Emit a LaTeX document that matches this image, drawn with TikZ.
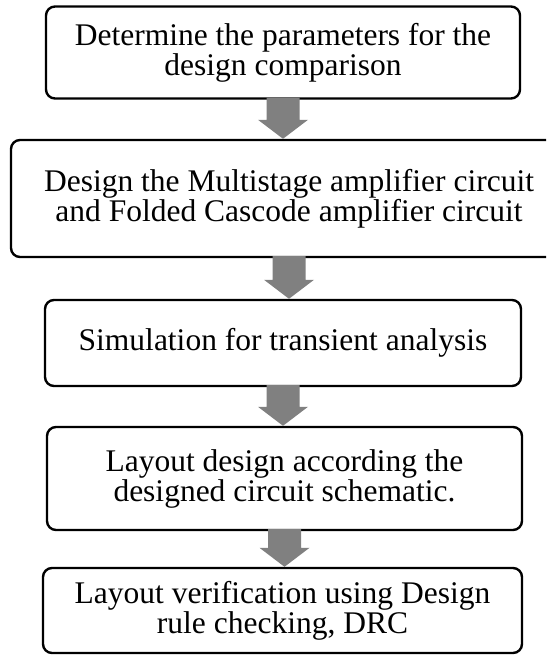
\documentclass[tikz,border=0pt]{standalone}
\usepackage{fontspec}
\setmainfont{Liberation Serif}
\usetikzlibrary{calc}

\definecolor{arrowgray}{HTML}{808080}

\tikzset{
  stepbox/.style={draw=black, line width=2.4pt, rounded corners=9pt, fill=white,
    align=center, inner sep=0pt,
    font=\fontsize{31.5}{30}\selectfont},
}

% block arrow from the bottom of one box to the top of the next
\newcommand{\flowarrow}[2]{%
  \fill[arrowgray]
    ($(#1.south)+(-16.5,-2)$) --
    ($(#1.south |- #2.north)+(-16.5,-19)$) --
    ($(#1.south |- #2.north)+(-25,-19)$) --
    (#1.south |- #2.north) --
    ($(#1.south |- #2.north)+(25,-19)$) --
    ($(#1.south |- #2.north)+(16.5,-19)$) --
    ($(#1.south)+(16.5,-2)$) -- cycle;}

\begin{document}
\begin{tikzpicture}[x=1pt, y=-1pt]
  \clip (0,0) rectangle (546,655);
  \fill[white] (0,0) rectangle (546,655);

  \node[stepbox, minimum width=474pt, minimum height=92pt] (b1) at (283,52.5)
    {Determine the parameters for the\\design comparison};
  \node[stepbox, minimum width=556pt, minimum height=117pt] (b2) at (289,198.5)
    {Design the Multistage amplifier circuit\\and Folded Cascode amplifier circuit};
  \node[stepbox, minimum width=476pt, minimum height=86pt] (b3) at (283,343)
    {Simulation for transient analysis};
  \node[stepbox, minimum width=475pt, minimum height=103pt] (b4) at (284.5,478.5)
    {Layout design according the\\designed circuit schematic.};
  \node[stepbox, minimum width=479pt, minimum height=85pt] (b5) at (282.5,610.5)
    {Layout verification using Design\\rule checking, DRC};

  \flowarrow{b1}{b2}
  \flowarrow{b2}{b3}
  \flowarrow{b3}{b4}
  \flowarrow{b4}{b5}
\end{tikzpicture}
\end{document}
